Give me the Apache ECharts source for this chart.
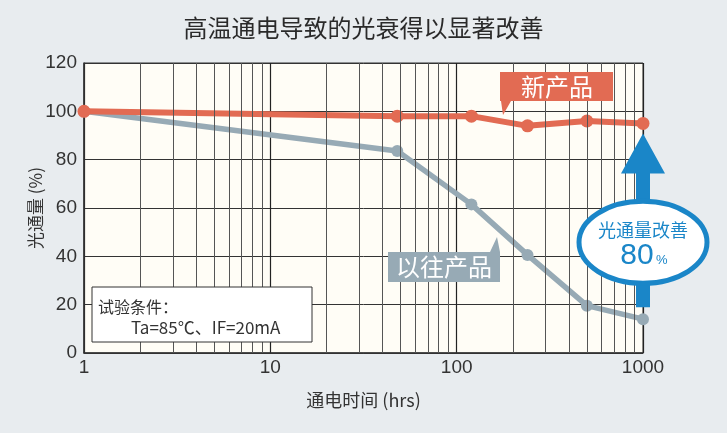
<!DOCTYPE html>
<html>
<head>
<meta charset="utf-8">
<script src="https://cdn.jsdelivr.net/npm/echarts@6/dist/echarts.min.js"></script>
<style>
html,body{margin:0;padding:0;background:#e8ecef;}
#c{width:727px;height:433px;}
</style>
</head>
<body>
<div id="c"></div>
<script>
var hours = [1, 48, 120, 240, 500, 1000];
var newProduct = [100, 98, 98, 94, 96, 95];
var oldProduct = [100, 83.6, 61.5, 40.6, 19.6, 14];
var yTicks = [0, 20, 40, 60, 80, 100, 120];
var xTickLabels = ['1', '10', '100', '1000'];
var minorHours = [2,3,4,5,6,7,8,9,20,30,40,50,60,70,80,90,200,300,400,500,600,700,800,900];

var CJK = '"Noto Sans CJK SC", "Noto Sans", sans-serif';
var LAT = '"Liberation Sans", Arial, sans-serif';
var ORANGE = '#e26b53', GRAY = '#97aab5', BLUE = '#1a86c8';

var chart = echarts.init(document.getElementById('c'));
function pairs(arr){ return hours.map(function(h,i){ return [h, arr[i]]; }); }

chart.setOption({
  backgroundColor: '#e8ecef',
  animation: false,
  title: {
    text: '高温通电导致的光衰得以显著改善',
    left: 'center', top: 11,
    textStyle: {fontFamily: CJK, fontSize: 24, fontWeight: 'normal', color: '#2a2a2a'}
  },
  grid: {left: 84, right: 84, top: 63, bottom: 80, show: true,
    backgroundColor: '#fffdf6', borderColor: '#333', borderWidth: 1},
  xAxis: {
    type: 'log', logBase: 10, min: 1, max: 1000,
    name: '通电时间 (hrs)', nameLocation: 'middle', nameGap: 38,
    nameTextStyle: {fontFamily: CJK, fontSize: 18, color: '#333'},
    axisLine: {show: true, lineStyle: {color: '#333', width: 1.5}},
    axisTick: {show: false},
    axisLabel: {fontFamily: LAT, fontSize: 19, color: '#333', margin: 5,
      formatter: function(v){ return xTickLabels.indexOf(String(v)) >= 0 ? String(v) : ''; }},
    splitLine: {show: true, lineStyle: {color: '#222', width: 1.2}}
  },
  yAxis: {
    type: 'value', min: yTicks[0], max: yTicks[yTicks.length-1], interval: 20,
    name: '光通量 (%)', nameLocation: 'middle', nameGap: 40, nameRotate: 90,
    nameMoveOverlap: false,
    nameTextStyle: {fontFamily: CJK, fontSize: 17, color: '#333'},
    axisLine: {show: true, lineStyle: {color: '#333', width: 1.5}},
    axisTick: {show: false},
    axisLabel: {fontFamily: LAT, fontSize: 19, color: '#333', margin: 7},
    splitLine: {show: true, lineStyle: {color: '#333', width: 1}}
  },
  series: [
    {
      name: '以往产品', type: 'line', data: pairs(oldProduct),
      symbol: 'circle', symbolSize: 12, lineStyle: {color: GRAY, width: 5.5},
      itemStyle: {color: GRAY}, z: 3,
      markLine: {
        silent: true, symbol: ['none','none'], animation: false,
        label: {show: false},
        lineStyle: {color: '#555', width: 1, type: 'solid'},
        emphasis: {disabled: true},
        data: minorHours.map(function(h){ return {xAxis: h}; })
      }
    },
    {
      name: '新产品', type: 'line', data: pairs(newProduct),
      symbol: 'circle', symbolSize: 13, lineStyle: {color: ORANGE, width: 6},
      itemStyle: {color: ORANGE}, z: 4
    }
  ]
});

// annotations anchored to data positions
var pNew = chart.convertToPixel({gridIndex: 0}, [1000, newProduct[5]]);
var pOld = chart.convertToPixel({gridIndex: 0}, [1000, oldProduct[5]]);
var ax = pNew[0];
var tipY = pNew[1] + 10, shaftBot = pOld[1] - 12, headBase = tipY + 40;
var ellCy = (tipY + shaftBot) / 2 + 22;

chart.setOption({
  graphic: [
    // new product callout
    {type: 'polygon', z: 10, shape: {points: [[500,72],[613,72],[613,101],[511,101],[503,115],[501,101],[500,101]]},
      style: {fill: ORANGE}},
    {type: 'text', z: 11, x: 557, y: 87, style: {text: '新产品', fill: '#fff', font: '24px ' + CJK, align: 'center', verticalAlign: 'middle'}},
    // old product callout
    {type: 'polygon', z: 10, shape: {points: [[388,252],[490,252],[497,237],[500,252],[500,282],[388,282]]},
      style: {fill: GRAY}},
    {type: 'text', z: 11, x: 444, y: 267, style: {text: '以往产品', fill: '#fff', font: '24px ' + CJK, align: 'center', verticalAlign: 'middle'}},
    // test condition box
    {type: 'rect', z: 10, shape: {x: 92, y: 287, width: 220, height: 55},
      style: {fill: '#fff', stroke: '#333', lineWidth: 1}},
    {type: 'text', z: 11, x: 98, y: 307, style: {text: '试验条件：', fill: '#333', font: '16px ' + CJK, verticalAlign: 'middle'}},
    {type: 'text', z: 11, x: 131, y: 328, style: {text: 'Ta=85℃、IF=20mA', fill: '#333', font: '17px ' + CJK, verticalAlign: 'middle'}},
    // improvement arrow
    {type: 'polygon', z: 12, shape: {points: [[ax, tipY],[ax+22, headBase],[ax+7, headBase],[ax+7, shaftBot],[ax-7, shaftBot],[ax-7, headBase],[ax-22, headBase]]},
      style: {fill: BLUE}},
    {type: 'ellipse', z: 13, shape: {cx: ax, cy: ellCy, rx: 64, ry: 41},
      style: {fill: '#fff', stroke: BLUE, lineWidth: 5}},
    {type: 'text', z: 14, x: ax, y: ellCy - 12, style: {text: '光通量改善', fill: BLUE, font: '18px ' + CJK, align: 'center', verticalAlign: 'middle'}},
    {type: 'text', z: 14, x: ax - 6, y: ellCy + 13, style: {text: '80', fill: BLUE, font: '30px ' + LAT, align: 'center', verticalAlign: 'middle'}},
    {type: 'text', z: 14, x: ax + 13, y: ellCy + 18, style: {text: '%', fill: BLUE, font: '13px ' + LAT, align: 'left', verticalAlign: 'middle'}}
  ]
});
</script>
</body>
</html>
